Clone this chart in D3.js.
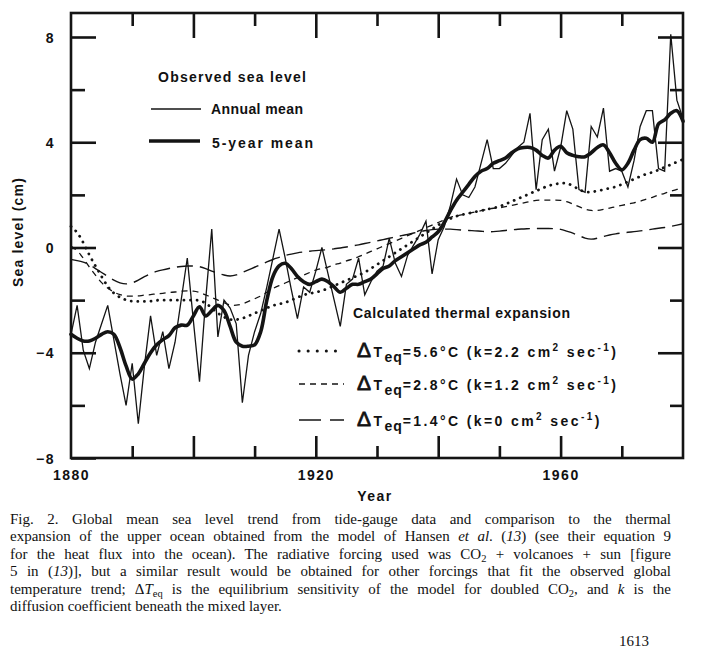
<!DOCTYPE html>
<html>
<head>
<meta charset="utf-8">
<script src="https://cdn.jsdelivr.net/npm/d3@7"></script>
<style>
  html, body { margin: 0; padding: 0; background: #fff; }
  svg { display: block; }
  .fig { font-family: "Liberation Sans", Arial, Helvetica, sans-serif; font-weight: bold; fill: #111; }
  .cap { font-family: "Liberation Serif", "Times New Roman", serif; fill: #111; font-size: 15px; }
</style>
</head>
<body>
<svg id="chart" width="718" height="662"></svg>
<script>
// ---------------- DATA ----------------
const firstYear = 1880;
// Observed sea level, annual mean (cm)
const annualMean = [
  -3.3, -2.2, -3.9, -4.6, -3.6, -2.9, -2.2, -3.5, -4.8, -6.0,
  -4.4, -6.7, -4.5, -2.6, -4.1, -3.2, -4.6, -3.6, -2.0, -0.4,
  -2.8, -5.1, -2.0, 0.7, -3.4, -2.0, -2.3, -2.9, -5.9, -4.1,
  -3.2, -2.5, -1.5, -0.4, 0.7, -0.4, -1.6, -2.7, -1.5, -1.7,
  -0.9, 0.0, -1.0, -2.0, -3.0, -1.4, -1.2, -0.4, -1.8, -1.3,
  -0.9, -0.7, 0.35, -0.6, -1.1, -0.3, 0.1, 0.5, 1.0, -1.0,
  0.3, 0.8, 1.6, 2.6, 2.0, 1.9, 2.3, 3.2, 4.1, 3.0,
  3.0, 3.2, 3.5, 3.8, 4.0, 5.1, 2.2, 4.1, 4.5, 2.9,
  3.8, 5.2, 4.5, 2.2, 2.1, 4.6, 4.2, 5.3, 2.9, 3.0,
  2.9, 2.3, 3.3, 4.6, 5.2, 5.2, 3.0, 2.9, 8.1, 5.6,
  4.9
];
// Observed sea level, 5-year mean (cm)
const fiveYearMean = [
  -3.3, -3.45, -3.55, -3.55, -3.45, -3.3, -3.2, -3.3, -3.8, -4.5,
  -5.0, -4.8, -4.4, -4.0, -3.7, -3.5, -3.35, -3.05, -2.95, -2.95,
  -2.6, -2.25, -2.6, -2.4, -2.2, -2.4, -3.0, -3.6, -3.75, -3.75,
  -3.7, -3.2, -2.0, -1.1, -0.7, -0.6, -0.8, -1.1, -1.3, -1.4,
  -1.3, -1.2, -1.3, -1.5, -1.7, -1.55, -1.4, -1.4, -1.3, -1.2,
  -1.0, -0.8, -0.7, -0.5, -0.35, -0.2, -0.05, 0.1, 0.2, 0.4,
  0.6, 0.95, 1.4, 1.8, 2.1, 2.4, 2.7, 2.9, 3.0, 3.2,
  3.3, 3.4, 3.6, 3.75, 3.8, 3.8, 3.7, 3.5, 3.4, 3.7,
  3.85, 3.6, 3.5, 3.45, 3.45, 3.6, 3.8, 3.9, 3.6, 3.2,
  2.95, 3.2, 3.7, 4.1, 4.15, 4.0, 4.7, 4.85, 5.1, 5.2,
  4.8
];
// Calculated thermal expansion, dTeq = 5.6 C (k = 2.2)
const model56 = [
  0.8, 0.6, 0.2, -0.3, -0.7, -1.1, -1.5, -1.75, -1.9, -2.0,
  -2.05, -2.05, -2.05, -2.05, -2.0, -2.0, -2.0, -2.0, -2.0, -2.0,
  -2.0, -2.0, -2.1, -2.3, -2.5, -2.65, -2.75, -2.75, -2.7, -2.6,
  -2.5, -2.4, -2.3, -2.2, -2.15, -2.1, -2.0, -1.9, -1.8, -1.75,
  -1.7, -1.65, -1.55, -1.45, -1.35, -1.25, -1.15, -1.05, -0.95, -0.8,
  -0.65, -0.5, -0.35, -0.2, -0.05, 0.1, 0.25, 0.4, 0.55, 0.7,
  0.85, 1.0, 1.1, 1.2, 1.25, 1.3, 1.35, 1.4, 1.45, 1.5,
  1.55, 1.65, 1.75, 1.85, 1.95, 2.05, 2.15, 2.25, 2.35, 2.4,
  2.45, 2.45, 2.35, 2.2, 2.1, 2.1, 2.15, 2.2, 2.25, 2.3,
  2.4, 2.5, 2.6, 2.7, 2.8, 2.85, 2.95, 3.05, 3.15, 3.25,
  3.35
];
// dTeq = 2.8 C (k = 1.2)
const model28 = [
  0.05, -0.1, -0.4, -0.75, -1.05, -1.35, -1.55, -1.7, -1.8, -1.85,
  -1.85, -1.85, -1.8, -1.8, -1.75, -1.75, -1.7, -1.7, -1.65, -1.65,
  -1.65, -1.7, -1.8, -1.9, -2.0, -2.1, -2.2, -2.2, -2.15, -2.05,
  -1.95, -1.85, -1.7, -1.55, -1.45, -1.35, -1.25, -1.15, -1.05, -0.95,
  -0.85, -0.8, -0.75, -0.65, -0.6, -0.5, -0.45, -0.35, -0.25, -0.15,
  -0.05, 0.05, 0.15, 0.25, 0.35, 0.45, 0.55, 0.65, 0.75, 0.85,
  0.95, 1.05, 1.15, 1.2, 1.25, 1.3, 1.35, 1.4, 1.45, 1.5,
  1.5, 1.55, 1.6, 1.65, 1.7, 1.75, 1.8, 1.8, 1.8, 1.8,
  1.8, 1.75, 1.65, 1.55, 1.45, 1.4, 1.4, 1.45, 1.5, 1.55,
  1.6, 1.65, 1.7, 1.75, 1.85, 1.9, 2.0, 2.05, 2.15, 2.2,
  2.3
];
// dTeq = 1.4 C (k = 0)
const model14 = [
  -0.45, -0.5, -0.55, -0.65, -0.8, -0.95, -1.1, -1.25, -1.35, -1.4,
  -1.35, -1.25, -1.1, -1.0, -0.9, -0.85, -0.8, -0.75, -0.72, -0.7,
  -0.7, -0.72, -0.8, -0.9, -0.98, -1.05, -1.1, -1.05, -0.95, -0.85,
  -0.75, -0.65, -0.55, -0.45, -0.38, -0.3, -0.25, -0.2, -0.17, -0.14,
  -0.12, -0.1, -0.08, -0.05, -0.02, 0.02, 0.06, 0.1, 0.15, 0.2,
  0.25, 0.3, 0.35, 0.4, 0.45, 0.5, 0.55, 0.6, 0.65, 0.68,
  0.7, 0.7, 0.7, 0.68, 0.66, 0.65, 0.63, 0.62, 0.6, 0.6,
  0.62, 0.65, 0.67, 0.7, 0.7, 0.72, 0.72, 0.72, 0.72, 0.72,
  0.7, 0.62, 0.55, 0.45, 0.35, 0.3, 0.35, 0.42, 0.48, 0.52,
  0.55, 0.58, 0.6, 0.63, 0.66, 0.7, 0.73, 0.76, 0.8, 0.85,
  0.9
];
const yMajorTicks = [8, 4, 0, -4, -8];
const yMinorTicks = [6, 2, -2, -6];
const xLabelTicks = [1880, 1920, 1960];
const xMajorTicks = [1900, 1920, 1940, 1960];
const xMinorTicks = [1890, 1910, 1930, 1950, 1970];
const captionLines = [
  [["Fig. 2. Global mean sea level trend from tide-gauge data and comparison to the thermal"]],
  [["expansion of the upper ocean obtained from the model of Hansen "], ["et al", "i"], [". ("], ["13", "i"], [") (see their equation 9"]],
  [["for the heat flux into the ocean). The radiative forcing used was CO"], ["2", "sub"], [" + volcanoes + sun [figure"]],
  [["5 in ("], ["13", "i"], [")], but a similar result would be obtained for other forcings that fit the observed global"]],
  [["temperature trend; Δ"], ["T", "i"], ["eq", "sub"], [" is the equilibrium sensitivity of the model for doubled CO"], ["2", "sub"], [", and "], ["k", "i"], [" is the"]],
  [["diffusion coefficient beneath the mixed layer."]]
];

// ---------------- CHART ----------------
const svg = d3.select("#chart");
const ink = "#141414";
const L = 71, R = 683, T = 13, B = 458;
const x = d3.scaleLinear().domain([1880, 1980]).range([L, R]);
const y = d3.scaleLinear().domain([-8, 8]).range([458, 37]);

const toPts = arr => arr.map((v, i) => ({ year: firstYear + i, v }));

// axes (inward ticks)
function axisG(axis, tx, ty) {
  const g = svg.append("g").attr("transform", `translate(${tx},${ty})`).call(axis);
  g.select(".domain").remove();
  g.selectAll("line").attr("stroke", ink).attr("stroke-width", 2.6);
  g.selectAll("text").attr("class", "fig").attr("fill", ink)
    .style("font-size", "14px").style("letter-spacing", "1.5px");
  return g;
}
axisG(d3.axisLeft(y).tickValues(yMajorTicks).tickSize(-25).tickPadding(16).tickFormat(d3.format("d")), L, 0)
  .selectAll("text").attr("dy", "0.36em");
axisG(d3.axisLeft(y).tickValues(yMinorTicks).tickSize(-14).tickFormat(""), L, 0);
axisG(d3.axisRight(y).tickValues(yMajorTicks.slice(0, 4)).tickSize(-25).tickFormat(""), R, 0);
axisG(d3.axisRight(y).tickValues(yMinorTicks).tickSize(-13).tickFormat(""), R, 0);
axisG(d3.axisBottom(x).tickValues(xMajorTicks).tickSize(-22).tickFormat(""), 0, B);
axisG(d3.axisBottom(x).tickValues(xMinorTicks).tickSize(-12).tickFormat(""), 0, B);
axisG(d3.axisBottom(x).tickValues(xLabelTicks).tickSize(0).tickPadding(12).tickFormat(d3.format("d")), 0, B);
axisG(d3.axisTop(x).tickValues(xMajorTicks).tickSize(-25).tickFormat(""), 0, T);
axisG(d3.axisTop(x).tickValues(xMinorTicks).tickSize(-13).tickFormat(""), 0, T);

// frame
svg.append("rect").attr("x", L).attr("y", T).attr("width", R - L).attr("height", B - T)
  .attr("fill", "none").attr("stroke", ink).attr("stroke-width", 2.6);

// lines
const lineLin = d3.line().x(d => x(d.year)).y(d => y(d.v));
const lineSmooth = d3.line().x(d => x(d.year)).y(d => y(d.v)).curve(d3.curveCatmullRom.alpha(0.5));
const lineBasis = d3.line().x(d => x(d.year)).y(d => y(d.v)).curve(d3.curveBasis);

svg.append("path").attr("d", lineBasis(toPts(model14))).attr("fill", "none")
  .attr("stroke", ink).attr("stroke-width", 1.4).attr("stroke-dasharray", "16 7");
svg.append("path").attr("d", lineBasis(toPts(model28))).attr("fill", "none")
  .attr("stroke", ink).attr("stroke-width", 1.3).attr("stroke-dasharray", "6 5");
svg.append("path").attr("d", lineBasis(toPts(model56))).attr("fill", "none")
  .attr("stroke", ink).attr("stroke-width", 2.8).attr("stroke-linecap", "round").attr("stroke-dasharray", "0.1 6.5");
svg.append("path").attr("d", lineLin(toPts(annualMean))).attr("fill", "none")
  .attr("stroke", ink).attr("stroke-width", 1.3).attr("stroke-linejoin", "miter");
svg.append("path").attr("d", lineSmooth(toPts(fiveYearMean))).attr("fill", "none")
  .attr("stroke", ink).attr("stroke-width", 3.6).attr("stroke-linejoin", "round").attr("stroke-linecap", "round");

// axis titles
svg.append("text").attr("class", "fig").attr("x", 375).attr("y", 501).attr("text-anchor", "middle")
  .style("font-size", "14px").style("letter-spacing", "1.5px").text("Year");
svg.append("text").attr("class", "fig").attr("transform", "translate(23,232) rotate(-90)")
  .attr("text-anchor", "middle").style("font-size", "14px").style("letter-spacing", "1.2px").text("Sea level (cm)");

// legend: observed
function ftext(tx, ty, str, len) {
  return svg.append("text").attr("class", "fig").attr("x", tx).attr("y", ty)
    .style("font-size", "14px").attr("textLength", len).attr("lengthAdjust", "spacing").text(str);
}
ftext(158, 82, "Observed sea level", 148);
svg.append("line").attr("x1", 151).attr("x2", 201).attr("y1", 109).attr("y2", 109)
  .attr("stroke", ink).attr("stroke-width", 1.3);
ftext(211, 114, "Annual mean", 92);
svg.append("line").attr("x1", 149).attr("x2", 200).attr("y1", 141).attr("y2", 141)
  .attr("stroke", ink).attr("stroke-width", 3.6);
ftext(212, 148, "5-year mean", 101);

// legend: calculated
ftext(353, 318, "Calculated thermal expansion", 217);
const modelLegend = [
  { yy: 351, dash: "0.1 9", w: 3, cap: "round", dt: "5.6", k: "2.2" },
  { yy: 384, dash: "6 5", w: 1.3, cap: "butt", dt: "2.8", k: "1.2" },
  { yy: 420, dash: "22 9", w: 1.4, cap: "butt", dt: "1.4", k: "0" }
];
modelLegend.forEach((m, i) => {
  svg.append("line").attr("x1", 299).attr("x2", 344).attr("y1", m.yy).attr("y2", m.yy)
    .attr("stroke", ink).attr("stroke-width", m.w).attr("stroke-linecap", m.cap)
    .attr("stroke-dasharray", m.dash);
  const t = svg.append("text").attr("class", "fig").attr("x", 357).attr("y", m.yy + 6)
    .style("font-size", "14px").style("letter-spacing", "2.4px");
  t.append("tspan").style("font-size", "21px").style("font-weight", "normal").style("stroke", ink).style("stroke-width", "0.8").text("Δ");
  t.append("tspan").text("T");
  t.append("tspan").attr("dy", 5).style("font-size", "14px").style("letter-spacing", "1px").text("eq");
  t.append("tspan").attr("dy", -5).text(`=${m.dt}°C (k=${m.k} cm`);
  t.append("tspan").attr("dy", -6).style("font-size", "10px").text("2");
  t.append("tspan").attr("dy", 6).text(" sec");
  t.append("tspan").attr("dy", -6).style("font-size", "10px").text("-1");
  t.append("tspan").attr("dy", 6).text(")");
});

// caption
const capTop = 524, capStep = 17.4, capL = 10, capR = 671;
captionLines.forEach((parts, i) => {
  const t = svg.append("text").attr("class", "cap").attr("x", capL).attr("y", capTop + i * capStep);
  let shifted = false;
  parts.forEach(p => {
    const ts = t.append("tspan").text(p[0]);
    if (p[1] === "i") ts.style("font-style", "italic");
    if (p[1] === "sub") {
      ts.style("font-size", "10.5px");
      if (!shifted) { ts.attr("dy", 3); shifted = true; }
    } else if (shifted) {
      ts.attr("dy", -3); shifted = false;
    }
  });
  if (i < captionLines.length - 1) {
    const len = t.node().getComputedTextLength();
    const spaces = parts.map(p => p[0]).join("").split(" ").length - 1;
    if (spaces > 0) t.style("word-spacing", ((capR - capL - len) / spaces) + "px");
  }
});
svg.append("text").attr("class", "cap").attr("x", 619).attr("y", 646).style("font-size", "15px").text("1613");
</script>
</body>
</html>
